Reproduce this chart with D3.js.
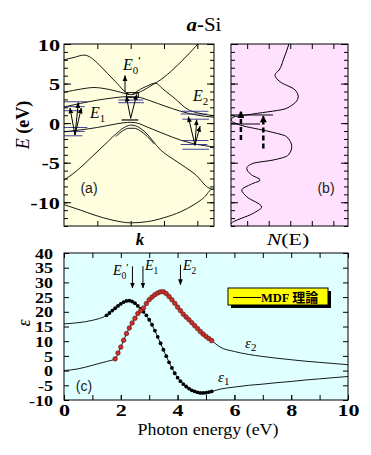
<!DOCTYPE html>
<html>
<head>
<meta charset="utf-8">
<script src="https://cdn.jsdelivr.net/npm/d3@7"></script>
<style>
body{margin:0;background:#fff;}
svg{display:block;}
</style>
</head>
<body>
<svg id="fig" width="371" height="455"></svg>
<script>
// ---------- data : (a) band structure, pairs of [k, E(eV)] ----------
var bandTop=[[0,8.0],[0.3,8.3],[0.6,8.6],[0.8,8.3],[1.0,7.6],[1.3,6.3],[1.6,5.0],[1.85,3.9],[2.0,3.6],[2.2,3.8],[2.6,4.7],[3.0,5.8],[3.4,7.3],[3.8,9.0],[4.1,10.4]];
var bandFlat=[[0,3.9],[0.5,4.3],[0.9,4.5],[1.3,4.3],[1.7,3.9],[1.95,3.6]];
var bandMid=[[0,2.05],[0.5,2.5],[1.0,2.9],[1.5,3.2],[1.9,3.35],[2.2,3.3],[2.6,2.8],[3.0,2.2],[3.5,1.5],[4.0,1.0],[4.5,0.75]];
var bandHump=[[2.05,3.6],[2.3,4.3],[2.5,4.7],[2.73,5.05],[3.0,4.2],[3.3,3.2],[3.73,1.7],[4.0,1.3],[4.38,1.0],[4.5,0.95]];
var bandVal=[[0,-1.1],[0.5,-0.85],[1.0,-0.55],[1.5,-0.15],[1.8,0.05],[2.0,0.1],[2.2,0.0],[2.5,-0.5],[3.0,-1.35],[3.5,-2.15],[4.0,-2.7],[4.5,-3.0]];
var bandTopVB=[[0,-7.2],[0.3,-6.3],[0.9,-4.0],[1.3,-2.4],[1.6,-1.2],[1.85,-0.45],[2.0,-0.25],[2.15,-0.35],[2.4,-1.0],[2.9,-3.4],[3.4,-4.9],[3.9,-6.35],[4.45,-8.35],[4.5,-8.35]];
var bandInner=[[1.55,-1.7],[1.75,-1.0],[1.95,-0.65],[2.1,-0.65],[2.3,-1.0],[2.5,-1.7],[2.7,-2.6]];
var bandBottom=[[0,-10.3],[0.5,-11.0],[0.9,-11.6],[1.5,-12.3],[2.0,-12.6],[2.5,-12.45],[3.0,-11.95],[3.5,-11.2],[3.9,-10.3],[4.2,-9.4],[4.45,-8.35],[4.5,-8.35]];
var bands=[bandTop,bandFlat,bandMid,bandHump,bandVal,bandTopVB,bandInner,bandBottom];

// blue level marks [k1,k2,E]
var levelMarks=[[0,0.7,2.7],[0,0.62,2.08],[0,0.55,1.57],[0,0.7,-0.55],[0,0.62,-1.05],[0,0.55,-1.6],
  [1.63,2.38,2.92],[1.63,2.4,2.58],
  [3.53,4.33,1.5],[3.5,4.3,1.15],[3.55,4.35,0.5],[3.53,4.33,-2.2],[3.5,4.3,-2.7],[3.55,4.35,-3.3]];
// black marks [k1,k2,E]
var blackMarks=[[1.73,2.23,0.4]];
// transitions [k1,E1,k2,E2]
var transA=[[0.33,-1.5,0.18,1.9],[0.33,-1.5,0.43,2.6],[0.33,-1.5,0.52,1.9],
  [2.0,0.6,1.87,3.4],[2.0,0.6,2.18,3.6],[1.83,3.9,1.83,6.0],
  [3.93,-2.8,3.73,0.8],[3.93,-2.8,3.98,0.4],[3.93,-2.8,4.08,-0.4]];

// ---------- data : (b) density of states ----------
var dosE=[10,8.0,6.7,6.1,5.24,4.2,3.34,1.87,1.15,0.74,0.4,-0.24,-1.08,-1.71,-2.98,-4.03,-4.66,-5.08,-5.71,-6.55,-7.19,-7.69,-8.45,-9.3,-10.6,-11.4,-12.7,-13];
var dosN=[2.94,2.68,2.48,2.29,2.52,3.22,3.37,2.83,1.27,0.34,0.26,0.67,2.06,2.83,3.07,2.91,2.21,1.28,0.98,1.21,1.6,1.21,0.75,0.98,1.67,1.28,0.25,0.2];
var dosLevels=[[1.03,2.2],[-0.11,1.6]];       // [E, N end]
var dosArrows=[[0.71,-2.13,1.45],[1.75,-3.2,0.9]]; // [N, Efrom, Eto]

// ---------- data : (c) dielectric function ----------
var lineE=[0,0.5,1.0,1.5,1.8,2.0,2.2,2.4,2.6,2.8,3.0,3.2,3.4,3.6,3.8,4.0,4.2,4.4,4.6,4.8,5.0,5.2,5.5,6.0,6.5,7.0,7.5,8.0,8.5,9.0,9.5,10];
var eps1Line=[15.9,16.3,17.1,18.8,21.2,22.7,23.7,23.5,22.0,20.0,17.3,13.6,9.3,4.9,0.9,-2.4,-4.6,-6.1,-7.1,-7.6,-7.5,-7.1,-6.3,-5.6,-5.0,-4.6,-4.1,-3.7,-3.2,-2.8,-2.4,-2.0];
var eps2Line=[0.0,0.6,1.8,3.1,4.0,8.0,12.6,16.2,19.4,21.3,24.1,25.8,26.8,26.2,24.1,21.6,19.2,17.3,15.3,13.3,11.6,10.2,8.0,6.5,5.5,4.8,4.2,3.7,3.2,2.8,2.4,2.0];
var eps1MarkE=[1.5,1.6,1.7,1.8,1.9,2.0,2.1,2.2,2.3,2.4,2.5,2.6,2.7,2.8,2.9,3.0,3.1,3.2,3.3,3.4,3.5,3.6,3.7,3.8,3.9,4.0,4.1,4.2,4.3,4.4,4.5,4.6,4.7,4.8,4.9,5.0,5.1,5.2];
var eps1Mark=[18.8,19.6,20.4,21.2,22.0,22.7,23.3,23.7,23.8,23.5,22.9,22.0,21.0,20.0,18.8,17.3,15.6,13.6,11.5,9.3,7.1,4.9,2.8,0.9,-0.9,-2.4,-3.6,-4.6,-5.4,-6.1,-6.7,-7.1,-7.4,-7.6,-7.6,-7.5,-7.3,-7.1];
var eps2MarkE=[1.8,1.9,2.0,2.1,2.2,2.3,2.4,2.5,2.6,2.7,2.8,2.9,3.0,3.1,3.2,3.3,3.4,3.5,3.6,3.7,3.8,3.9,4.0,4.1,4.2,4.3,4.4,4.5,4.6,4.7,4.8,4.9,5.0,5.1,5.2];
var eps2Mark=[4.0,6.0,8.0,10.3,12.6,14.5,16.2,17.8,19.4,20.4,21.3,22.8,24.1,25.0,25.8,26.4,26.8,26.8,26.2,25.2,24.1,22.9,21.6,20.4,19.2,18.2,17.3,16.3,15.3,14.3,13.3,12.4,11.6,10.9,10.2];
var transE=[2.41,2.78,4.1];
var transName=["0","1","2"];

var yTicksA=[-10,-5,0,5,10];
var yTicksC=[-10,-5,0,5,10,15,20,25,30,35,40];
var xTicksC=[0,2,4,6,8,10];

// ---------- scales ----------
var xA=d3.scaleLinear().domain([0,4.5]).range([64,214]);
var yA=d3.scaleLinear().domain([-13,10]).range([226,44]);
var xB=d3.scaleLinear().domain([0.25,5.68]).range([231,348]);
var yB=yA;
var xC=d3.scaleLinear().domain([0,10]).range([64,348]);
var yC=d3.scaleLinear().domain([-10,40]).range([400,253]);

var SERIF="'Liberation Serif','Times New Roman',serif";
var SANS="'Liberation Sans',Arial,sans-serif";

var svg=d3.select("#fig");
var defs=svg.append("defs");
defs.append("marker").attr("id","ah").attr("viewBox","0 0 10 10").attr("refX",9).attr("refY",5)
  .attr("markerWidth",6).attr("markerHeight",6).attr("markerUnits","userSpaceOnUse").attr("orient","auto")
  .append("path").attr("d","M0,1L10,5L0,9z").attr("fill","#000");
defs.append("marker").attr("id","ahb").attr("viewBox","0 0 10 10").attr("refX",9).attr("refY",5)
  .attr("markerWidth",8).attr("markerHeight",7).attr("markerUnits","userSpaceOnUse").attr("orient","auto")
  .append("path").attr("d","M0,0L10,5L0,10z").attr("fill","#000");
defs.append("clipPath").attr("id","clipA").append("rect").attr("x",64).attr("y",44).attr("width",150).attr("height",182);
defs.append("clipPath").attr("id","clipB").append("rect").attr("x",231).attr("y",44).attr("width",117).attr("height",182);
defs.append("clipPath").attr("id","clipC").append("rect").attr("x",64).attr("y",253).attr("width",284).attr("height",147);

// the original lettering is wide, so stretch the text a bit
function stretch(sel,f){
    sel.each(function(){
        var w=this.getComputedTextLength();
        if(w>0) d3.select(this).attr("textLength",w*f).attr("lengthAdjust","spacingAndGlyphs");
    });
}
function ticks(g,axis,tx,ty){
    var a=g.append("g").attr("transform","translate("+tx+","+ty+")").call(axis);
    a.select(".domain").remove();
    a.selectAll("line").attr("stroke","#000");
    a.attr("font-family",SERIF).attr("font-weight","bold").attr("fill","#000");
    a.selectAll("text").attr("fill","#000");
    return a;
}
function noLab(){return "";}
function lab(d){return String(d);}

// ---------- panel (a) ----------
var gA=svg.append("g");
gA.append("rect").attr("x",64).attr("y",44).attr("width",150).attr("height",182).attr("fill","#ffffe0");
var bandLine=d3.line().x(function(d){return xA(d[0]);}).y(function(d){return yA(d[1]);}).curve(d3.curveMonotoneX);
var inA=gA.append("g").attr("clip-path","url(#clipA)");
inA.selectAll("path.band").data(bands).enter().append("path").attr("class","band")
  .attr("d",bandLine).attr("fill","none").attr("stroke","#000").attr("stroke-width",0.9);
inA.selectAll("line.lev").data(levelMarks).enter().append("line").attr("class","lev")
  .attr("x1",function(d){return xA(d[0]);}).attr("x2",function(d){return xA(d[1]);})
  .attr("y1",function(d){return yA(d[2]);}).attr("y2",function(d){return yA(d[2]);})
  .attr("stroke","#2a2a90").attr("stroke-width",0.9);
inA.selectAll("line.bm").data(blackMarks).enter().append("line").attr("class","bm")
  .attr("x1",function(d){return xA(d[0]);}).attr("x2",function(d){return xA(d[1]);})
  .attr("y1",function(d){return yA(d[2]);}).attr("y2",function(d){return yA(d[2]);})
  .attr("stroke","#000").attr("stroke-width",1.2);
inA.append("rect").attr("x",xA(1.88)).attr("y",yA(3.85)).attr("width",xA(2.23)-xA(1.88)).attr("height",yA(3.26)-yA(3.85))
  .attr("fill","none").attr("stroke","#000").attr("stroke-width",1);
inA.selectAll("line.tr").data(transA).enter().append("line").attr("class","tr")
  .attr("x1",function(d){return xA(d[0]);}).attr("y1",function(d){return yA(d[1]);})
  .attr("x2",function(d){return xA(d[2]);}).attr("y2",function(d){return yA(d[3]);})
  .attr("stroke","#000").attr("stroke-width",1).attr("marker-end","url(#ah)");

ticks(gA,d3.axisLeft(yA).tickValues(d3.range(-13,11)).tickSize(-4).tickFormat(noLab),64,0);
var labA=ticks(gA,d3.axisLeft(yA).tickValues(yTicksA).tickSize(-7).tickPadding(4).tickFormat(lab),64,0)
  .attr("font-size",16.5).selectAll("text").attr("dy","0.38em");
stretch(labA,1.35);
ticks(gA,d3.axisRight(yA).tickValues(d3.range(-13,11)).tickSize(-4).tickFormat(noLab),214,0);
ticks(gA,d3.axisRight(yA).tickValues(yTicksA).tickSize(-7).tickFormat(noLab),214,0);
ticks(gA,d3.axisTop(xA).tickValues([1,2,3,4]).tickSize(-5).tickFormat(noLab),0,44);
ticks(gA,d3.axisBottom(xA).tickValues([1,2,3,4]).tickSize(-5).tickFormat(noLab),0,226);
gA.append("rect").attr("x",64).attr("y",44).attr("width",150).attr("height",182).attr("fill","none").attr("stroke","#000");

function eLabel(g,x,y,sub,prime,size){
    var t=g.append("text").attr("x",x).attr("y",y).attr("font-family",SERIF)
      .attr("font-size",size).attr("fill","#000");
    t.append("tspan").attr("font-style","italic").text("E");
    t.append("tspan").attr("font-size",size*0.68).attr("dy",size*0.25).text(sub);
    if(prime){t.append("tspan").attr("dy",-size*0.55).attr("font-size",size*0.8).text("'");}
}
eLabel(gA,123,70,"0",true,16);
eLabel(gA,90,118,"1",false,16);
eLabel(gA,193,101,"2",false,16);
gA.append("text").attr("x",89).attr("y",193).attr("text-anchor","middle")
  .attr("font-family",SANS).attr("font-size",14).attr("fill","#222").text("(a)");

// ---------- panel (b) ----------
var gB=svg.append("g");
gB.append("rect").attr("x",231).attr("y",44).attr("width",117).attr("height",182).attr("fill","#ffe0ff");
var inB=gB.append("g").attr("clip-path","url(#clipB)");
var dosLine=d3.line().x(function(d){return xB(dosN[d]);}).y(function(d){return yB(dosE[d]);}).curve(d3.curveMonotoneY);
inB.append("path").datum(d3.range(dosE.length)).attr("d",dosLine).attr("fill","none").attr("stroke","#000").attr("stroke-width",1);
inB.selectAll("line.lv").data(dosLevels).enter().append("line").attr("class","lv")
  .attr("x1",xB(0.25)).attr("x2",function(d){return xB(d[1]);})
  .attr("y1",function(d){return yB(d[0]);}).attr("y2",function(d){return yB(d[0]);})
  .attr("stroke","#000").attr("stroke-width",1);
inB.selectAll("line.da").data(dosArrows).enter().append("line").attr("class","da")
  .attr("x1",function(d){return xB(d[0]);}).attr("x2",function(d){return xB(d[0]);})
  .attr("y1",function(d){return yB(d[1]);}).attr("y2",function(d){return yB(d[2]);})
  .attr("stroke","#000").attr("stroke-width",2.5).attr("stroke-dasharray","5,3").attr("marker-end","url(#ahb)");
ticks(gB,d3.axisLeft(yB).tickValues(d3.range(-13,11)).tickSize(-4).tickFormat(noLab),231,0);
ticks(gB,d3.axisLeft(yB).tickValues(yTicksA).tickSize(-7).tickFormat(noLab),231,0);
ticks(gB,d3.axisRight(yB).tickValues(d3.range(-13,11)).tickSize(-4).tickFormat(noLab),348,0);
ticks(gB,d3.axisRight(yB).tickValues(yTicksA).tickSize(-7).tickFormat(noLab),348,0);
ticks(gB,d3.axisTop(xB).tickValues([1,2,3,4,5]).tickSize(-5).tickFormat(noLab),0,44);
ticks(gB,d3.axisBottom(xB).tickValues([1,2,3,4,5]).tickSize(-5).tickFormat(noLab),0,226);
gB.append("rect").attr("x",231).attr("y",44).attr("width",117).attr("height",182).attr("fill","none").attr("stroke","#000");
gB.append("text").attr("x",326).attr("y",193).attr("text-anchor","middle")
  .attr("font-family",SANS).attr("font-size",14).attr("fill","#222").text("(b)");

// ---------- titles / axis names for (a),(b) ----------
var title=svg.append("text").attr("x",204).attr("y",31).attr("text-anchor","middle")
  .attr("font-family",SERIF).attr("font-size",19).attr("fill","#000");
title.append("tspan").attr("font-weight","bold").attr("font-style","italic").text("a");
title.append("tspan").attr("font-weight","bold").text("-");
title.append("tspan").text("Si");
stretch(title,1.1);
var yl=svg.append("text").attr("transform","translate(29,125) rotate(-90)").attr("text-anchor","middle")
  .attr("font-family",SERIF).attr("font-size",18).attr("fill","#000");
yl.append("tspan").attr("font-style","italic").text("E");
yl.append("tspan").attr("font-weight","bold").text(" (eV)");
svg.append("text").attr("x",140).attr("y",245).attr("text-anchor","middle")
  .attr("font-family",SERIF).attr("font-size",17).attr("font-weight","bold")
  .attr("font-style","italic").attr("fill","#000").text("k");
var nl=svg.append("text").attr("x",288).attr("y",245).attr("text-anchor","middle")
  .attr("font-family",SERIF).attr("font-size",17).attr("fill","#000");
nl.append("tspan").attr("font-style","italic").text("N");
nl.append("tspan").text("(E)");
stretch(nl,1.28);

// ---------- panel (c) ----------
var gC=svg.append("g");
gC.append("rect").attr("x",64).attr("y",253).attr("width",284).attr("height",147).attr("fill","#e0ffff");
var inC=gC.append("g").attr("clip-path","url(#clipC)");
var line1=d3.line().x(function(d){return xC(lineE[d]);}).y(function(d){return yC(eps1Line[d]);}).curve(d3.curveMonotoneX);
var line2=d3.line().x(function(d){return xC(lineE[d]);}).y(function(d){return yC(eps2Line[d]);}).curve(d3.curveMonotoneX);
inC.append("path").datum(d3.range(lineE.length)).attr("d",line1).attr("fill","none").attr("stroke","#000").attr("stroke-width",0.9);
inC.append("path").datum(d3.range(lineE.length)).attr("d",line2).attr("fill","none").attr("stroke","#000").attr("stroke-width",0.9);
inC.selectAll("circle.e1").data(d3.range(eps1MarkE.length)).enter().append("circle").attr("class","e1")
  .attr("cx",function(d){return xC(eps1MarkE[d]);}).attr("cy",function(d){return yC(eps1Mark[d]);})
  .attr("r",1.9).attr("fill","#000");
inC.selectAll("circle.e2").data(d3.range(eps2MarkE.length)).enter().append("circle").attr("class","e2")
  .attr("cx",function(d){return xC(eps2MarkE[d]);}).attr("cy",function(d){return yC(eps2Mark[d]);})
  .attr("r",2.3).attr("fill","#c8302a").attr("stroke","#5a1010").attr("stroke-width",0.6);

// transition arrows
gC.selectAll("line.ta").data(transE).enter().append("line").attr("class","ta")
  .attr("x1",function(d){return xC(d);}).attr("x2",function(d){return xC(d);})
  .attr("y1",function(d,i){return i==2?yC(36):yC(35.5);}).attr("y2",function(d,i){return i==2?yC(29.2):yC(28.1);})
  .attr("stroke","#000").attr("stroke-width",1).attr("marker-end","url(#ah)");
eLabel(gC,113,275,transName[0],true,14);
eLabel(gC,145,270,transName[1],false,14);
eLabel(gC,183,270,transName[2],false,14);

var labCy=ticks(gC,d3.axisLeft(yC).tickValues(yTicksC).tickSize(-5).tickPadding(11).tickFormat(lab),64,0)
  .attr("font-size",15).selectAll("text").attr("dy","0.34em");
stretch(labCy,1.2);
ticks(gC,d3.axisRight(yC).tickValues(yTicksC).tickSize(-5).tickFormat(noLab),348,0);
ticks(gC,d3.axisBottom(xC).tickValues(d3.range(0,11)).tickSize(-5).tickFormat(noLab),0,400);
var labCx=ticks(gC,d3.axisBottom(xC).tickValues(xTicksC).tickSize(-5).tickPadding(4).tickFormat(lab),0,400)
  .attr("font-size",17).selectAll("text");
stretch(labCx,1.3);
ticks(gC,d3.axisTop(xC).tickValues(d3.range(0,11)).tickSize(-5).tickFormat(noLab),0,253);
gC.append("rect").attr("x",64).attr("y",253).attr("width",284).attr("height",147).attr("fill","none").attr("stroke","#000");

// curve names
function epsLabel(x,y,sub){
    var t=gC.append("text").attr("x",x).attr("y",y).attr("font-family",SERIF)
      .attr("font-size",15).attr("fill","#000");
    t.append("tspan").attr("font-style","italic").text("\u03b5");
    t.append("tspan").attr("font-size",11).attr("dy",3).text(sub);
}
epsLabel(218,382,"1");
epsLabel(245,348,"2");
gC.append("text").attr("x",84).attr("y",391).attr("text-anchor","middle")
  .attr("font-family",SANS).attr("font-size",14).attr("fill","#222").text("(c)");

// legend
gC.append("rect").attr("x",231).attr("y",291).attr("width",100).attr("height",17).attr("fill","#000");
gC.append("rect").attr("x",228).attr("y",288).attr("width",100).attr("height",17).attr("fill","#ffff00").attr("stroke","#000").attr("stroke-width",1);
gC.append("line").attr("x1",233).attr("x2",261).attr("y1",297.5).attr("y2",297.5).attr("stroke","#000").attr("stroke-width",1);
var lg=gC.append("text").attr("x",261).attr("y",301.5).attr("font-weight","bold").attr("fill","#000");
lg.append("tspan").attr("font-family",SERIF).attr("font-size",12.5).text("MDF ");
lg.append("tspan").attr("font-family","'Noto Sans CJK JP',sans-serif").attr("font-size",13).text("理論");

// axis names (c)
svg.append("text").attr("x",208).attr("y",435).attr("text-anchor","middle")
  .attr("font-family",SERIF).attr("font-size",16.5).attr("fill","#000")
  .attr("textLength",141).attr("lengthAdjust","spacingAndGlyphs").text("Photon energy (eV)");
svg.append("text").attr("transform","translate(30,323) rotate(-90)").attr("text-anchor","middle")
  .attr("font-family",SERIF).attr("font-size",18).attr("font-style","italic").attr("fill","#000").text("\u03b5");
</script>
</body>
</html>
